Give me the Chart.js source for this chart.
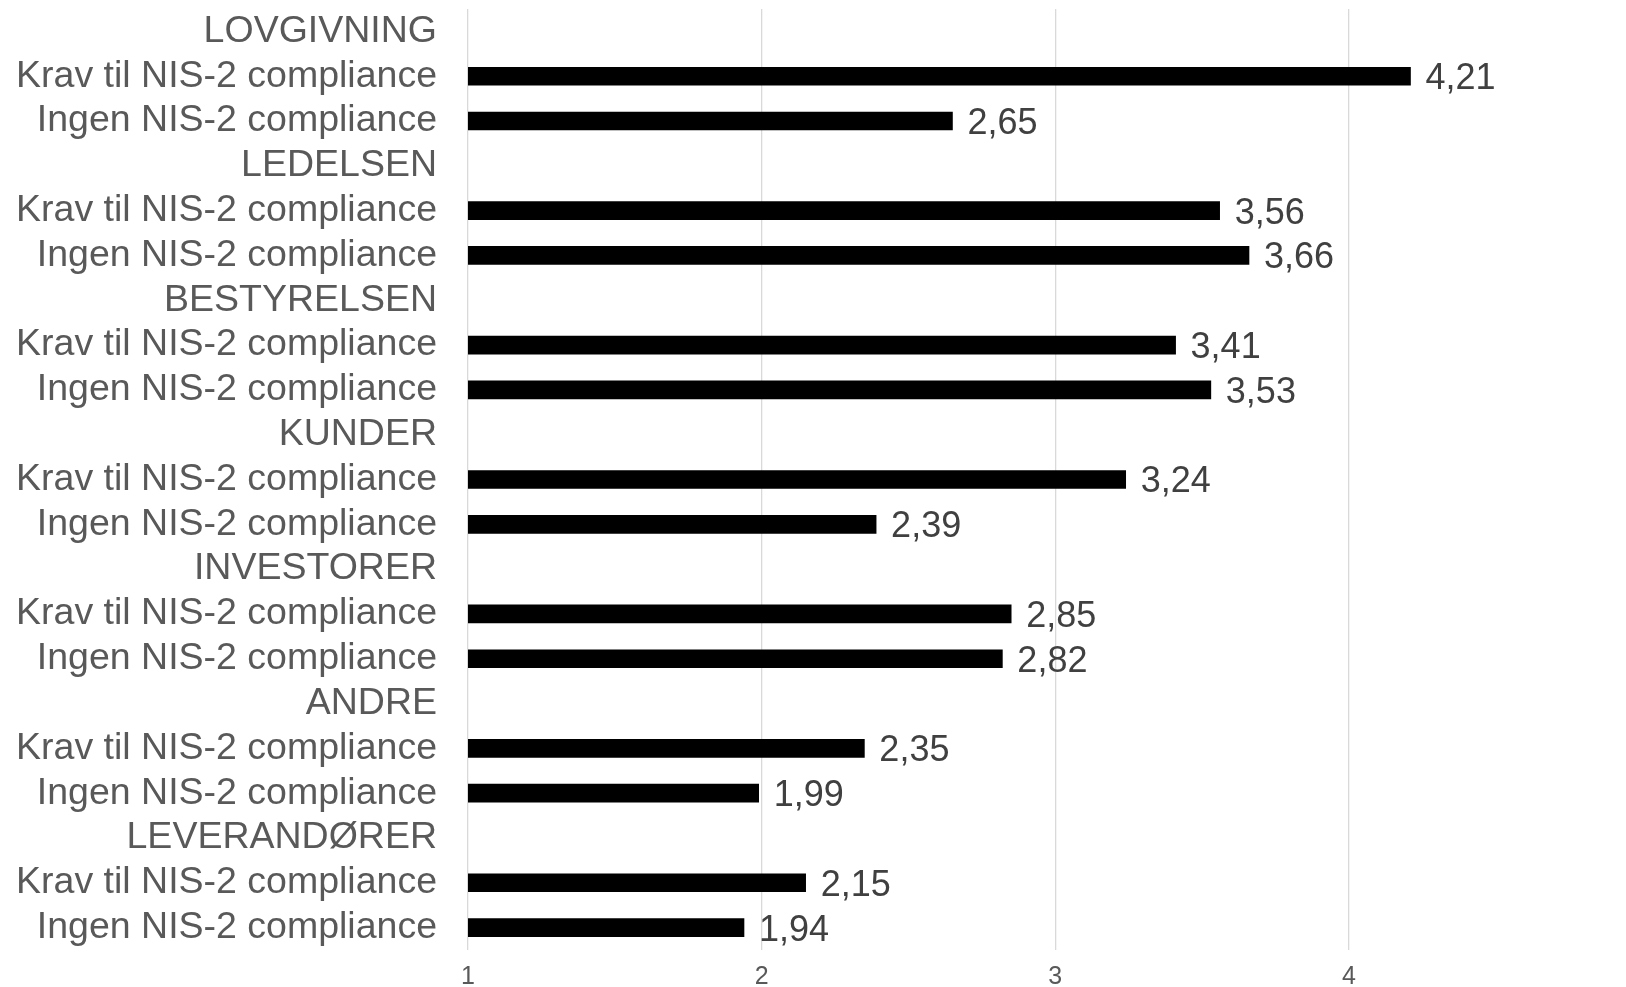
<!DOCTYPE html>
<html>
<head>
<meta charset="utf-8">
<script src="https://cdn.jsdelivr.net/npm/chart.js@4/dist/chart.umd.min.js"></script>
<style>
  html, body { margin: 0; padding: 0; background: #fff; }
  #wrap { width: 1626px; height: 987px; }
</style>
</head>
<body>
<div id="wrap"><canvas id="chartEl" width="1626" height="987"></canvas></div>
<script>
/************ DATA ************/
const groups = ["LOVGIVNING", "LEDELSEN", "BESTYRELSEN", "KUNDER", "INVESTORER", "ANDRE", "LEVERANDØRER"];
const subLabels = ["Krav til NIS-2 compliance", "Ingen NIS-2 compliance"];
const kravValues = [4.21, 3.56, 3.41, 3.24, 2.85, 2.35, 2.15];
const ingenValues = [2.65, 3.66, 3.53, 2.39, 2.82, 1.99, 1.94];
const xTicks = [1, 2, 3, 4];

/************ BUILD ROWS ************/
const labels = [];
const values = [];
groups.forEach((g, i) => {
    labels.push(g);
    values.push(null);
    labels.push(subLabels[0]);
    values.push(kravValues[i]);
    labels.push(subLabels[1]);
    values.push(ingenValues[i]);
});

const FONT = '"Liberation Sans", Arial, sans-serif';

/************ VALUE LABELS ************/
const valueLabels = {
    id: "valueLabels",
    afterDatasetsDraw(chart) {
        const ctx = chart.ctx;
        const meta = chart.getDatasetMeta(0);
        ctx.save();
        ctx.font = "36px " + FONT;
        ctx.fillStyle = "#404040";
        ctx.textAlign = "left";
        ctx.textBaseline = "middle";
        meta.data.forEach((bar, i) => {
            const v = values[i];
            if (v == null) return;
            ctx.fillText(v.toFixed(2).replace(".", ","), bar.x + 15, bar.y + 3);
        });
        ctx.restore();
    }
};

/************ CHART ************/
new Chart(document.getElementById("chartEl"), {
    type: "bar",
    data: {
        labels: labels,
        datasets: [{
            data: values,
            backgroundColor: "#000000",
            borderWidth: 0,
            barThickness: 18
        }]
    },
    options: {
        indexAxis: "y",
        responsive: false,
        animation: false,
        layout: { padding: { top: 9, right: 0, left: 0, bottom: 0 } },
        plugins: {
            legend: { display: false },
            tooltip: { enabled: false }
        },
        scales: {
            x: {
                type: "linear",
                min: 1,
                max: 4.944,
                afterFit: s => {
                    s.height = 37;
                    s.paddingLeft = 0;
                    s.paddingRight = 0;
                },
                afterBuildTicks: s => { s.ticks = xTicks.map(v => ({ value: v })); },
                grid: { color: "#d9d9d9", lineWidth: 1.3, drawTicks: false },
                border: { display: false },
                ticks: {
                    padding: 12,
                    color: "#595959",
                    font: { family: FONT, size: 25 },
                    maxRotation: 0
                }
            },
            y: {
                afterFit: s => {
                    s.width = 468;
                    s.paddingTop = 0;
                    s.paddingBottom = 0;
                },
                grid: { display: false, drawTicks: false },
                border: { display: false },
                ticks: {
                    padding: 31,
                    autoSkip: false,
                    color: "#595959",
                    font: { family: FONT, size: 37.5 }
                }
            }
        }
    },
    plugins: [valueLabels]
});
</script>
</body>
</html>
